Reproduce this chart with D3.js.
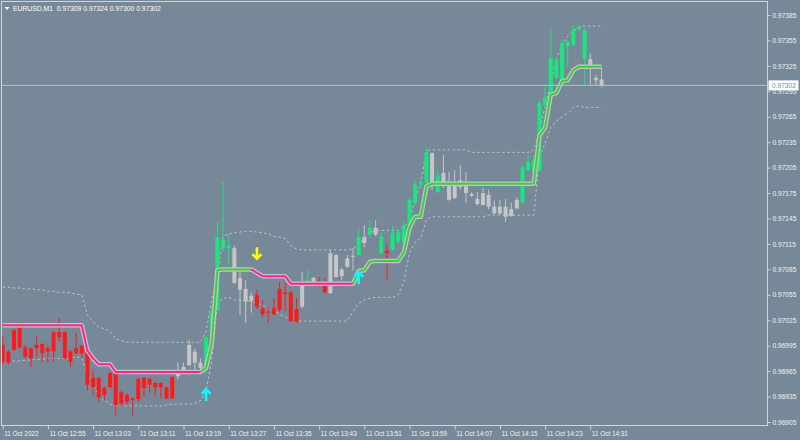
<!DOCTYPE html>
<html><head><meta charset="utf-8">
<script src="https://cdn.jsdelivr.net/npm/d3@7"></script>
<style>body{margin:0;background:#778899;} svg{display:block;}</style>
</head><body><svg id="c" width="800" height="440"></svg>
<script>
// ---- data (EURUSD M1, 11 Oct 2022, bar 0 = 12:47) ----
const symbol = "EURUSD,M1";
const open = [0.96996,0.96988,0.97013,0.97016,0.96993,0.96992,0.96996,0.96997,0.96992,0.97011,
0.97011,0.97011,0.96988,0.96992,0.96995,0.96990,0.96957,0.96957,0.96945,0.96963,
0.96963,0.96940,0.96937,0.96933,0.96956,0.96957,0.96956,0.96951,0.96951,0.96946,
0.96958,0.96959,0.96965,0.96972,0.96975,0.96969,0.96970,0.97004,0.97037,0.97110,
0.97110,0.97110,0.97075,0.97062,0.97054,0.97055,0.97039,0.97035,0.97039,0.97062,
0.97058,0.97058,0.97038,0.97041,0.97070,0.97070,0.97071,0.97069,0.97057,0.97102,
0.97077,0.97088,0.97100,0.97102,0.97116,0.97126,0.97134,0.97104,0.97107,0.97108,
0.97117,0.97117,0.97137,0.97163,0.97185,0.97187,0.97222,0.97176,0.97187,0.97183,
0.97185,0.97190,0.97183,0.97174,0.97168,0.97161,0.97173,0.97159,0.97151,0.97159,
0.97148,0.97157,0.97164,0.97202,0.97200,0.97202,0.97279,0.97291,0.97311,0.97308,
0.97348,0.97350,0.97368,0.97367,0.97333,0.97311,0.97309];
const high = [0.97006,0.96990,0.97015,0.97017,0.96996,0.96993,0.97006,0.96998,0.96996,0.97012,
0.97028,0.97012,0.96990,0.97010,0.96996,0.96991,0.96967,0.96958,0.96947,0.96964,
0.96965,0.96942,0.96939,0.96934,0.96957,0.96958,0.96957,0.96953,0.96952,0.96947,
0.96959,0.96975,0.96975,0.97002,0.96992,0.96980,0.97006,0.97043,0.97141,0.97188,
0.97126,0.97113,0.97082,0.97072,0.97058,0.97061,0.97049,0.97041,0.97051,0.97070,
0.97069,0.97059,0.97051,0.97082,0.97084,0.97076,0.97076,0.97075,0.97108,0.97103,
0.97087,0.97102,0.97110,0.97134,0.97137,0.97143,0.97143,0.97129,0.97114,0.97137,
0.97131,0.97141,0.97170,0.97190,0.97193,0.97229,0.97223,0.97202,0.97220,0.97200,
0.97202,0.97208,0.97200,0.97176,0.97176,0.97181,0.97179,0.97166,0.97167,0.97168,
0.97164,0.97170,0.97207,0.97220,0.97220,0.97285,0.97302,0.97368,0.97335,0.97356,
0.97356,0.97373,0.97373,0.97370,0.97340,0.97314,0.97324];
const low = [0.96973,0.96973,0.96989,0.96992,0.96980,0.96970,0.96982,0.96975,0.96975,0.96976,
0.96999,0.96979,0.96970,0.96985,0.96980,0.96942,0.96937,0.96929,0.96931,0.96945,
0.96913,0.96923,0.96925,0.96913,0.96929,0.96934,0.96940,0.96936,0.96933,0.96932,
0.96932,0.96955,0.96962,0.96971,0.96967,0.96965,0.96963,0.97001,0.97036,0.97105,
0.97090,0.97068,0.97031,0.97022,0.97034,0.97038,0.97028,0.97022,0.97031,0.97035,
0.97035,0.97023,0.97022,0.97039,0.97069,0.97069,0.97065,0.97057,0.97056,0.97075,
0.97072,0.97087,0.97084,0.97101,0.97111,0.97122,0.97124,0.97103,0.97072,0.97107,
0.97116,0.97115,0.97134,0.97161,0.97181,0.97185,0.97179,0.97175,0.97181,0.97166,
0.97168,0.97179,0.97163,0.97170,0.97160,0.97160,0.97156,0.97150,0.97149,0.97141,
0.97147,0.97156,0.97163,0.97201,0.97197,0.97200,0.97276,0.97289,0.97310,0.97307,
0.97324,0.97348,0.97367,0.97302,0.97302,0.97302,0.97300];
const close = [0.96975,0.96975,0.96990,0.96993,0.96982,0.96980,0.96992,0.96986,0.96988,0.96988,
0.97005,0.96980,0.96976,0.96986,0.96986,0.96949,0.96946,0.96934,0.96937,0.96946,
0.96925,0.96927,0.96929,0.96931,0.96932,0.96945,0.96949,0.96946,0.96946,0.96933,
0.96933,0.96965,0.96970,0.96996,0.96988,0.96975,0.97005,0.97034,0.97123,0.97120,
0.97113,0.97069,0.97061,0.97047,0.97048,0.97041,0.97032,0.97034,0.97032,0.97037,
0.97056,0.97024,0.97023,0.97070,0.97072,0.97075,0.97067,0.97058,0.97104,0.97076,
0.97085,0.97098,0.97101,0.97123,0.97123,0.97134,0.97126,0.97124,0.97104,0.97128,
0.97129,0.97137,0.97167,0.97185,0.97188,0.97223,0.97185,0.97195,0.97199,0.97167,
0.97169,0.97182,0.97175,0.97172,0.97162,0.97175,0.97159,0.97151,0.97159,0.97147,
0.97156,0.97167,0.97205,0.97212,0.97214,0.97281,0.97288,0.97334,0.97332,0.97352,
0.97353,0.97368,0.97371,0.97333,0.97326,0.97308,0.97302];
// candle colour state: r = down, u = up, n = neutral
const candleState = ("rrrrrrrrrrrrrrrrrrrrrrrrrrrrrrr" + "nnnnn" + "uuuuu" + "nnnn" + "rrrrrrrr" +
  "n" + "u" + "n" + "rr" + "nnnnn" + "u" + "n" + "u" + "n" + "u" + "r" + "uuuuuuu" + "n" + "u" +
  "nnnnnnnnnnnnnn" + "uuuuuuuuuuuu" + "nnn").split("");
const trendLine = [0.97019,0.97019,0.97019,0.97019,0.97019,0.97019,0.97019,0.97019,0.97019,0.97019,
0.97019,0.97019,0.97019,0.97019,0.97019,0.96989,0.96980,0.96973,0.96973,0.96973,
0.96964,0.96964,0.96964,0.96964,0.96964,0.96964,0.96964,0.96964,0.96964,0.96964,
0.96964,0.96964,0.96964,0.96964,0.96964,0.96964,0.96969,0.96998,0.97084,0.97085,
0.97085,0.97085,0.97085,0.97085,0.97085,0.97081,0.97077,0.97077,0.97077,0.97077,
0.97077,0.97068,0.97068,0.97068,0.97068,0.97068,0.97068,0.97068,0.97068,0.97068,
0.97068,0.97068,0.97068,0.97083,0.97084,0.97094,0.97095,0.97095,0.97095,0.97095,
0.97095,0.97105,0.97134,0.97147,0.97147,0.97183,0.97186,0.97186,0.97186,0.97186,
0.97186,0.97186,0.97186,0.97186,0.97186,0.97186,0.97186,0.97186,0.97186,0.97186,
0.97186,0.97186,0.97186,0.97186,0.97186,0.97243,0.97252,0.97291,0.97293,0.97307,
0.97308,0.97320,0.97324,0.97324,0.97324,0.97324,0.97324];
const trendState = ("d".repeat(36) + "u".repeat(9) + "d".repeat(18) + "u".repeat(44)).split("");
const upperBand = [0.97064,0.97064,0.97063,0.97063,0.97062,0.97062,0.97061,0.97061,0.97059,0.97059,
0.97058,0.97058,0.97057,0.97056,0.97055,0.97031,0.97023,0.97017,0.97015,0.97012,
0.97003,0.97001,0.96999,0.96999,0.96999,0.96999,0.96999,0.96999,0.96999,0.96999,
0.96999,0.96999,0.96999,0.96999,0.96999,0.96999,0.97012,0.97049,0.97078,0.97124,
0.97127,0.97128,0.97129,0.97130,0.97130,0.97129,0.97128,0.97127,0.97124,0.97123,
0.97121,0.97113,0.97109,0.97108,0.97108,0.97108,0.97108,0.97108,0.97108,0.97108,
0.97108,0.97108,0.97109,0.97114,0.97122,0.97128,0.97131,0.97131,0.97131,0.97131,
0.97131,0.97134,0.97143,0.97167,0.97187,0.97225,0.97226,0.97226,0.97226,0.97226,
0.97226,0.97226,0.97226,0.97223,0.97223,0.97223,0.97223,0.97223,0.97223,0.97223,
0.97223,0.97223,0.97223,0.97223,0.97226,0.97249,0.97278,0.97304,0.97334,0.97348,
0.97360,0.97366,0.97371,0.97372,0.97372,0.97372,0.97372];
const lowerBand = [0.96975,0.96976,0.96977,0.96977,0.96978,0.96978,0.96979,0.96979,0.96980,0.96980,
0.96980,0.96980,0.96980,0.96982,0.96980,0.96962,0.96949,0.96936,0.96930,0.96926,
0.96924,0.96924,0.96924,0.96924,0.96924,0.96924,0.96924,0.96924,0.96924,0.96925,
0.96926,0.96926,0.96926,0.96926,0.96927,0.96930,0.96942,0.96978,0.97045,0.97051,
0.97052,0.97049,0.97049,0.97048,0.97047,0.97045,0.97043,0.97039,0.97036,0.97032,
0.97029,0.97025,0.97024,0.97024,0.97024,0.97024,0.97024,0.97024,0.97024,0.97024,
0.97024,0.97024,0.97035,0.97045,0.97049,0.97051,0.97052,0.97052,0.97052,0.97052,
0.97055,0.97070,0.97105,0.97117,0.97122,0.97144,0.97147,0.97147,0.97147,0.97147,
0.97147,0.97147,0.97147,0.97147,0.97147,0.97147,0.97149,0.97149,0.97149,0.97149,
0.97149,0.97149,0.97149,0.97149,0.97149,0.97218,0.97234,0.97252,0.97260,0.97265,
0.97269,0.97276,0.97278,0.97276,0.97276,0.97276,0.97276];
const arrowBars = [36, 45, 63];
const arrowPrices = [0.96944, 0.97097, 0.97082];
const arrowDirs = ["up", "down", "up"];
const priceTicks = [0.97385,0.97355,0.97325,0.97295,0.97265,0.97235,0.97205,0.97175,0.97145,
0.97115,0.97085,0.97055,0.97025,0.96995,0.96965,0.96935,0.96905];
const timeTickBars = [0,8,16,24,32,40,48,56,64,72,80,88,96,104];
const timeLabels = ["11 Oct 2022","11 Oct 12:55","11 Oct 13:03","11 Oct 13:11","11 Oct 13:19",
"11 Oct 13:27","11 Oct 13:35","11 Oct 13:43","11 Oct 13:51","11 Oct 13:59","11 Oct 14:07",
"11 Oct 14:15","11 Oct 14:23","11 Oct 14:31"];

// ---- drawing ----
const svg = d3.select("#c");
const BG = "#778899", FRAME = "#d4d4d4", TXT = "#f2f2f2";
const FONT = "'Liberation Sans', Arial, sans-serif";
const L = 1.5, T = 1.5, R = 767.5, B = 425.5;
const n = close.length;
const idx = d3.range(n);
const x = d3.scaleLinear().domain([0, n - 1]).range([2.7, 2.7 + (n - 1) * 5.65]);
const y = d3.scaleLinear().domain([0.96905, 0.97385]).range([422, 15]);

svg.append("rect").attr("width", 800).attr("height", 440).attr("fill", BG);

// bands
const bandLine = d3.line().x((d, i) => x(i)).y(d => y(d));
[upperBand, lowerBand].forEach(b => {
  svg.append("path").attr("d", bandLine(b)).attr("fill", "none")
    .attr("stroke", "#d0d0d0").attr("stroke-width", 1).attr("stroke-dasharray", "2.5,2.5")
    .attr("opacity", 0.8);
});

// candles
const colors = {r: "#ff1a1a", u: "#19e67f", n: "#c6c6c6"};
const cg = svg.append("g");
cg.selectAll("line.w").data(idx).join("line")
  .attr("x1", i => x(i)).attr("x2", i => x(i))
  .attr("y1", i => y(high[i])).attr("y2", i => y(low[i]))
  .attr("stroke", i => colors[candleState[i]]).attr("stroke-width", 1);
cg.selectAll("rect.b").data(idx).join("rect")
  .attr("x", i => x(i) - 2).attr("width", 4)
  .attr("y", i => Math.min(y(open[i]), y(close[i])))
  .attr("height", i => Math.max(1, Math.abs(y(open[i]) - y(close[i]))))
  .attr("fill", i => colors[candleState[i]]);

// trend line: gray outline + coloured core
const tl = d3.line().x(i => x(i)).y(i => y(trendLine[i]));
svg.append("path").attr("d", tl(idx)).attr("fill", "none")
  .attr("stroke", "#c4c4c4").attr("stroke-width", 4.5).attr("stroke-linejoin", "round");
let runs = [], cur = null;
for (let i = 1; i < n; i++) {
  const s = trendState[i];
  if (!cur || cur.s !== s) { cur = {s, pts: [i - 1]}; runs.push(cur); }
  cur.pts.push(i);
}
runs.forEach(r => {
  svg.append("path").attr("d", tl(r.pts)).attr("fill", "none")
    .attr("stroke", r.s === "u" ? "#3ccf3c" : "#ff1f96").attr("stroke-width", 2)
    .attr("stroke-linejoin", "round");
});

// arrows
arrowBars.forEach((b, k) => {
  const ax = x(b), ay = y(arrowPrices[k]);
  const up = arrowDirs[k] === "up";
  const s = up ? 1 : -1;
  svg.append("path")
    .attr("d", `M${ax - 4.5},${ay + s * 5} L${ax},${ay + s * 0.5} L${ax + 4.5},${ay + s * 5} M${ax},${ay + s * 1} L${ax},${ay + s * 12}`)
    .attr("fill", "none").attr("stroke", up ? "#00ffff" : "#ffff00")
    .attr("stroke-width", 2.6).attr("stroke-linecap", "butt").attr("stroke-linejoin", "miter");
});

// current price line
const last = close[n - 1];
svg.append("line").attr("x1", L).attr("x2", R).attr("y1", y(last)).attr("y2", y(last))
  .attr("stroke", "#b8c0c8").attr("stroke-width", 1);

// frame
svg.append("rect").attr("x", L).attr("y", T).attr("width", R - L).attr("height", B - T)
  .attr("fill", "none").attr("stroke", FRAME).attr("stroke-width", 1);

// y axis
const ya = svg.append("g").attr("transform", `translate(${R},0)`)
  .call(d3.axisRight(y).tickValues(priceTicks).tickFormat(d3.format(".5f")).tickSize(3).tickPadding(2));
ya.select(".domain").remove();
ya.selectAll("line").attr("stroke", FRAME);
ya.selectAll("text").attr("fill", TXT).style("font-family", FONT).style("font-size", "6.6px");

// price label
const pl = svg.append("g").attr("transform", `translate(${R + 1},${y(last)})`);
pl.append("rect").attr("x", 0).attr("y", -5).attr("width", 30).attr("height", 10).attr("fill", "#ffffff");
pl.append("text").attr("x", 3.5).attr("y", 2.4).text(d3.format(".5f")(last))
  .attr("fill", "#778899").style("font-family", FONT).style("font-size", "6.6px");

// x axis
const xa = svg.append("g").attr("transform", `translate(0,${B})`)
  .call(d3.axisBottom(x).tickValues(timeTickBars).tickFormat((d, i) => timeLabels[i]).tickSize(4).tickPadding(2));
xa.select(".domain").remove();
xa.selectAll("line").attr("stroke", FRAME);
xa.selectAll("text").attr("fill", TXT).attr("text-anchor", "start").attr("dx", "1")
  .style("font-family", FONT).style("font-size", "6.4px");

// header
svg.append("path").attr("d", "M4.5,7 L9.5,7 L7,10 Z").attr("fill", "#ffffff");
svg.append("text").attr("x", 13).attr("y", 10.8)
  .text(`${symbol}  ${d3.format(".5f")(open[n-1])} ${d3.format(".5f")(high[n-1])} ${d3.format(".5f")(low[n-1])} ${d3.format(".5f")(close[n-1])}`)
  .attr("fill", "#ffffff").style("white-space", "pre").style("font-family", FONT).style("font-size", "6.8px");
</script></body></html>
